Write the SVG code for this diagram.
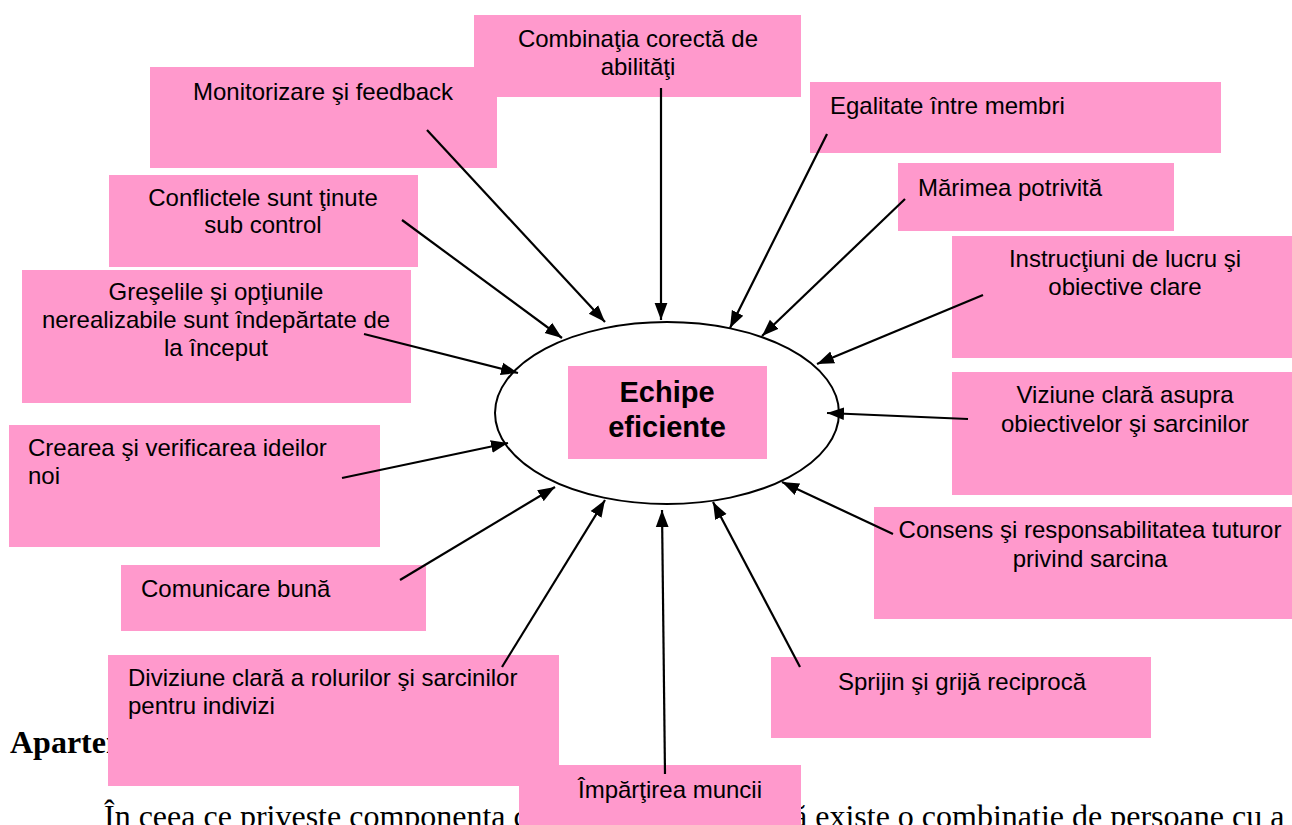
<svg xmlns="http://www.w3.org/2000/svg" width="1292" height="825" viewBox="0 0 1292 825">
<style>
.box{fill:#FF99CC;stroke:none}
.t{font-family:"Liberation Sans",Arial,sans-serif;font-size:24px;fill:#000}
.c{text-anchor:middle}
.hub{font-family:"Liberation Sans",Arial,sans-serif;font-size:29px;font-weight:bold;text-anchor:middle;fill:#000}
.body{font-family:"Liberation Serif","Times New Roman",serif;font-size:32px;fill:#000}
.conn line{stroke:#000;stroke-width:2.2;fill:none;marker-end:url(#ah)}
</style>
<defs>
<marker id="ah" viewBox="0 0 16 12" refX="16" refY="6" markerWidth="17" markerHeight="14" markerUnits="userSpaceOnUse" orient="auto">
<path d="M0,0 L16,6 L0,12 z" fill="#000"/>
</marker>
</defs>
<rect width="1292" height="825" fill="#fff"/>
<g id="page-text">
<text class="body" x="10" y="753" font-weight="bold">Aparten</text>
<text class="body" x="104" y="827">În ceea ce priveste componenta c</text>
<text class="body" x="793" y="827">ă existe o combinatie de persoane cu a</text>
</g>
<g id="hub">
<ellipse cx="667" cy="413" rx="172" ry="91" fill="#fff" stroke="#000" stroke-width="2"/>
<rect class="box" x="568" y="366" width="199" height="93"/>
<text class="hub" x="667" y="402">Echipe</text>
<text class="hub" x="667" y="437">eficiente</text>
</g>
<g id="n-monitorizare">
<rect class="box" x="150" y="67" width="347" height="101"/>
<text class="t c" x="323" y="100">Monitorizare şi feedback</text>
</g>
<g id="n-combinatia">
<rect class="box" x="474" y="15" width="327" height="82"/>
<text class="t c" x="638" y="47">Combinaţia corectă de</text>
<text class="t c" x="638" y="75">abilităţi</text>
</g>
<g id="n-egalitate">
<rect class="box" x="810" y="82" width="411" height="71"/>
<text class="t" x="830" y="114">Egalitate între membri</text>
</g>
<g id="n-marimea">
<rect class="box" x="898" y="163" width="276" height="68"/>
<text class="t" x="918" y="196">Mărimea potrivită</text>
</g>
<g id="n-instructiuni">
<rect class="box" x="952" y="236" width="340" height="122"/>
<text class="t c" x="1125" y="267">Instrucţiuni de lucru şi</text>
<text class="t c" x="1125" y="295">obiective clare</text>
</g>
<g id="n-viziune">
<rect class="box" x="952" y="372" width="340" height="123"/>
<text class="t c" x="1125" y="403">Viziune clară asupra</text>
<text class="t c" x="1125" y="432">obiectivelor şi sarcinilor</text>
</g>
<g id="n-consens">
<rect class="box" x="874" y="507" width="418" height="112"/>
<text class="t c" x="1090" y="538">Consens şi responsabilitatea tuturor</text>
<text class="t c" x="1090" y="567">privind sarcina</text>
</g>
<g id="n-sprijin">
<rect class="box" x="771" y="657" width="380" height="81"/>
<text class="t c" x="962" y="690">Sprijin şi grijă reciprocă</text>
</g>
<g id="n-impartirea">
<rect class="box" x="519" y="765" width="282" height="60"/>
<text class="t c" x="670" y="798">Împărţirea muncii</text>
</g>
<g id="n-diviziune">
<rect class="box" x="108" y="655" width="451" height="131"/>
<text class="t" x="128" y="686">Diviziune clară a rolurilor şi sarcinilor</text>
<text class="t" x="128" y="714">pentru indivizi</text>
</g>
<g id="n-comunicare">
<rect class="box" x="121" y="565" width="305" height="66"/>
<text class="t" x="141" y="597">Comunicare bună</text>
</g>
<g id="n-crearea">
<rect class="box" x="9" y="425" width="371" height="122"/>
<text class="t" x="28" y="456">Crearea şi verificarea ideilor</text>
<text class="t" x="28" y="484">noi</text>
</g>
<g id="n-greselile">
<rect class="box" x="22" y="270" width="389" height="133"/>
<text class="t c" x="216" y="300">Greşelile şi opţiunile</text>
<text class="t c" x="216" y="328">nerealizabile sunt îndepărtate de</text>
<text class="t c" x="216" y="356">la început</text>
</g>
<g id="n-conflictele">
<rect class="box" x="109" y="175" width="309" height="92"/>
<text class="t c" x="263" y="206">Conflictele sunt ţinute</text>
<text class="t c" x="263" y="233">sub control</text>
</g>
<g id="connectors" class="conn">
<line x1="661" y1="88" x2="661" y2="320"/>
<line x1="427" y1="130" x2="605" y2="322"/>
<line x1="827" y1="134" x2="730" y2="328"/>
<line x1="905" y1="199" x2="762" y2="336"/>
<line x1="983" y1="295" x2="817" y2="364"/>
<line x1="968" y1="419" x2="827" y2="413"/>
<line x1="893" y1="534" x2="782" y2="482"/>
<line x1="800" y1="667" x2="713" y2="502"/>
<line x1="665" y1="774" x2="662" y2="510"/>
<line x1="502" y1="667" x2="605" y2="500"/>
<line x1="400" y1="580" x2="555" y2="487"/>
<line x1="342" y1="478" x2="508" y2="443"/>
<line x1="364" y1="334" x2="518" y2="373"/>
<line x1="402" y1="220" x2="562" y2="338"/>
</g>
</svg>
